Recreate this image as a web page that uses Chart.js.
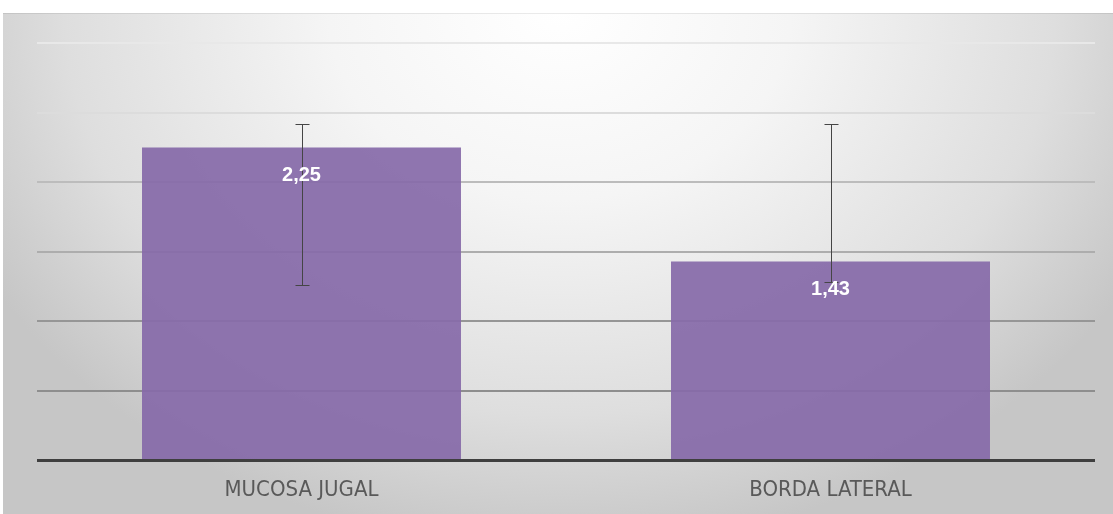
<!DOCTYPE html>
<html>
<head>
<meta charset="utf-8">
<script src="https://cdn.jsdelivr.net/npm/chart.js@4.4.0/dist/chart.umd.min.js"></script>
<style>
  html, body { margin: 0; padding: 0; background: #fff; }
  #wrap { width: 1113px; height: 514px; }
</style>
</head>
<body>
<div id="wrap"><canvas id="barChart"></canvas></div>
<script>
// data
const categories = ["MUCOSA JUGAL", "BORDA LATERAL"];
const means = [2.25, 1.43];
const meanLabels = ["2,25", "1,43"];
const errHigh = [2.42, 2.42];
const errLow = [1.26, 1.28];

// grey for each gridline, darker near the bottom
function gridColor(ctx) {
  const v = ctx.tick ? ctx.tick.value : 0;
  if (v === 0) return "rgba(0,0,0,0)";
  if (v <= 0.5) return "#8e8e8e";
  if (v <= 1.0) return "#969696";
  if (v <= 1.5) return "#adadad";
  if (v <= 2.0) return "#bcbcbc";
  if (v <= 2.5) return "#dcdcdc";
  return "#e8e8e8";
}

// card background with the soft light at the top
const backgroundPlugin = {
  id: "cardBackground",
  beforeDraw(chart) {
    const c = chart.ctx;
    c.save();
    c.fillStyle = "#ffffff";
    c.fillRect(0, 0, chart.width, chart.height);
    c.beginPath();
    c.rect(3, 13, chart.width - 3, chart.height - 13);
    c.clip();
    c.translate(560, 10);
    c.scale(1.1, 0.9);
    const g = c.createRadialGradient(0, 0, 0, 0, 0, 600);
    g.addColorStop(0, "#ffffff");
    g.addColorStop(0.35, "#f5f5f5");
    g.addColorStop(0.75, "#dedede");
    g.addColorStop(1, "#c6c6c6");
    c.fillStyle = g;
    c.fillRect(-700, -40, 1400, 700);
    c.restore();
    c.save();
    c.fillStyle = "rgba(0,0,0,0.08)";
    c.fillRect(3, 13, chart.width - 3, 1);
    c.restore();
  }
};

// baseline, error bars and value labels on top of the bars
const overlayPlugin = {
  id: "overlay",
  afterDatasetsDraw(chart) {
    const c = chart.ctx;
    const y = chart.scales.y;
    const area = chart.chartArea;
    const bars = chart.getDatasetMeta(0).data;

    c.save();
    c.strokeStyle = "#3f3f3f";
    c.lineWidth = 3;
    c.beginPath();
    c.moveTo(area.left, y.getPixelForValue(0));
    c.lineTo(area.right, y.getPixelForValue(0));
    c.stroke();

    c.strokeStyle = "#454545";
    c.lineWidth = 1;
    bars.forEach((bar, i) => {
      const x = Math.round(bar.x) + 0.5;
      const top = Math.round(y.getPixelForValue(errHigh[i])) + 0.5;
      const bot = Math.round(y.getPixelForValue(errLow[i])) + 0.5;
      c.beginPath();
      c.moveTo(x, top);
      c.lineTo(x, bot);
      c.moveTo(x - 7, top);
      c.lineTo(x + 7, top);
      c.moveTo(x - 7, bot);
      c.lineTo(x + 7, bot);
      c.stroke();
    });

    c.fillStyle = "#ffffff";
    c.font = "bold 20px 'Liberation Sans', Arial, sans-serif";
    c.textAlign = "center";
    c.textBaseline = "middle";
    bars.forEach((bar, i) => {
      c.fillText(meanLabels[i], bar.x, bar.y + 28);
    });
    c.restore();
  }
};

const ctx = document.getElementById("barChart").getContext("2d");

new Chart(ctx, {
  type: "bar",
  data: {
    labels: categories,
    datasets: [
      {
        data: means,
        backgroundColor: "rgba(134,106,169,0.93)",
        borderWidth: 0,
        categoryPercentage: 1,
        barPercentage: 0.603,
      },
    ],
  },
  options: {
    responsive: true,
    maintainAspectRatio: false,
    animation: false,
    layout: {
      padding: { left: 37, right: 18, top: 43, bottom: -5 },
    },
    plugins: {
      legend: { display: false },
      tooltip: { enabled: false },
    },
    scales: {
      x: {
        grid: { display: false, drawTicks: false },
        border: { display: false },
        ticks: {
          color: "#595959",
          padding: 16,
          maxRotation: 0,
          font: { family: "'Liberation Sans Narrow', 'DejaVu Sans Condensed', sans-serif", size: 22 },
        },
      },
      y: {
        min: 0,
        max: 3,
        ticks: { display: false, stepSize: 0.5 },
        border: { display: false },
        grid: { color: gridColor, lineWidth: 2, drawTicks: false },
      },
    },
  },
  plugins: [backgroundPlugin, overlayPlugin],
});
</script>
</body>
</html>
